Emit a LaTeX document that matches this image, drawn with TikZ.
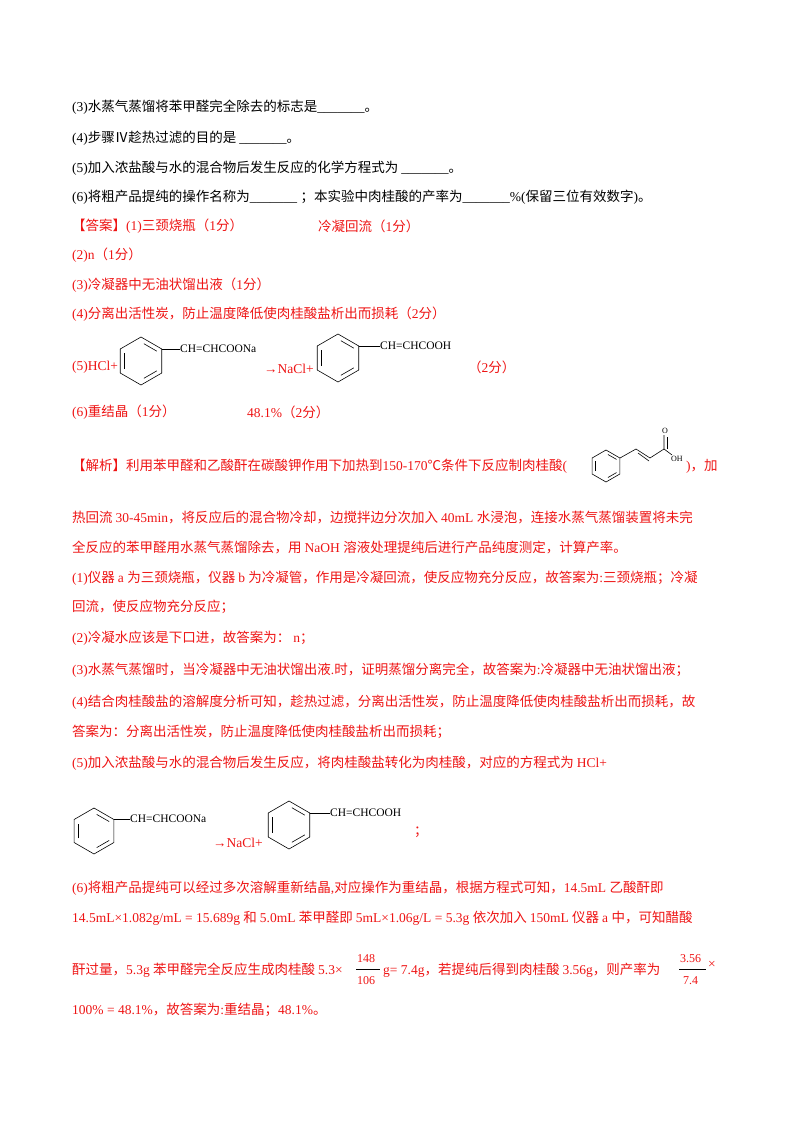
\documentclass[tikz,border=0pt]{standalone}
\usepackage{fontspec}
\setmainfont{Liberation Serif}
\newfontfamily\cjk{Noto Sans CJK SC}
\newfontfamily\latn{Liberation Serif}
\XeTeXinterchartokenstate=1
\newXeTeXintercharclass\cjkclass
\makeatletter
\count@="3000
\loop\ifnum\count@<"A000 \XeTeXcharclass\count@=\cjkclass \advance\count@ 1 \repeat
\count@="FF00
\loop\ifnum\count@<"FFF0 \XeTeXcharclass\count@=\cjkclass \advance\count@ 1 \repeat
\XeTeXcharclass"2103=\cjkclass
\XeTeXcharclass"2163=\cjkclass
\makeatother
\XeTeXinterchartoks 0 \cjkclass = {\cjk}
\XeTeXinterchartoks 4095 \cjkclass = {\cjk}
\XeTeXinterchartoks \cjkclass 0 = {\latn}
\XeTeXinterchartoks 4095 0 = {\latn}
\definecolor{ans}{RGB}{238,20,20}
\tikzset{ln/.style={anchor=west,inner sep=0pt,font=\latn\fontsize{13.5}{16}\selectfont},
 rd/.style={ln,text=ans},
 chem/.style={anchor=west,inner sep=0pt,font=\latn\fontsize{11.5}{13}\selectfont},
 frac/.style={anchor=west,inner sep=0pt,text=ans,font=\latn\fontsize{12}{13}\selectfont},
 bond/.style={line width=0.6pt}}
\newcommand\benz[3]{% cx cy r  (y grows downward)
 \begin{scope}[shift={(#1,#2)}]
 \draw[bond] (0,-#3) -- (0.866*#3,-0.5*#3) -- (0.866*#3,0.5*#3) -- (0,#3) -- (-0.866*#3,0.5*#3) -- (-0.866*#3,-0.5*#3) -- cycle;
 \draw[bond] (0.12*#3,-0.72*#3) -- (0.66*#3,-0.41*#3);
 \draw[bond] (0.66*#3,0.41*#3) -- (0.12*#3,0.72*#3);
 \draw[bond] (-0.70*#3,0.32*#3) -- (-0.70*#3,-0.32*#3);
 \end{scope}
}
\begin{document}
\begin{tikzpicture}[x=1pt,y=-1pt]
\useasboundingbox (0,0) rectangle (800,1132);
\node[ln] (q3) at (72,107) {(3)水蒸气蒸馏将苯甲醛完全除去的标志是\_\_\_\_\_\_\_。};
\node[ln] (q4) at (72,138) {(4)步骤Ⅳ趁热过滤的目的是 \_\_\_\_\_\_\_。};
\node[ln] (q5) at (72,168) {(5)加入浓盐酸与水的混合物后发生反应的化学方程式为 \_\_\_\_\_\_\_。};
\node[ln] (q6) at (72,197) {(6)将粗产品提纯的操作名称为\_\_\_\_\_\_\_ ；本实验中肉桂酸的产率为\_\_\_\_\_\_\_\%(保留三位有效数字)。};
\node[rd] (a1) at (72,226) {【答案】(1)三颈烧瓶（1分）};
\node[rd] (a1b) at (318,226) {冷凝回流（1分）};
\node[rd] (a2) at (72,255) {(2)n（1分）};
\node[rd] (a3) at (72,285) {(3)冷凝器中无油状馏出液（1分）};
\node[rd] (a4) at (72,314) {(4)分离出活性炭，防止温度降低使肉桂酸盐析出而损耗（2分）};
% equation 1
\node[rd] (a5) at (72,367) {(5)HCl+};
\benz{141}{361}{24}
\draw[bond] (162,349) -- (180,349);
\node[chem] (e1) at (180,349) {CH=CHCOONa};
\node[rd] (e1b) at (264,369) {→NaCl+};
\benz{338}{358}{24}
\draw[bond] (359,346) -- (380,346);
\node[chem] (e2) at (380,346) {CH=CHCOOH};
\node[rd] (e2b) at (468,367) {（2分）};
\node[rd] (a6) at (72,412) {(6)重结晶（1分）};
\node[rd] (a6b) at (247,412) {48.1\%（2分）};
% analysis
\node[rd] (j1) at (72,466) {【解析】利用苯甲醛和乙酸酐在碳酸钾作用下加热到150-170℃条件下反应制肉桂酸(};
\benz{606}{466}{16}
\draw[bond] (620,458) -- (636,449) -- (650,458) -- (664,449) -- (664,435);
\draw[bond] (638,453) -- (649,461);
\draw[bond] (667,449) -- (667,437);
\node[chem,font=\latn\fontsize{8}{9}\selectfont] (o1) at (662,431) {O};
\draw[bond] (664,449) -- (672,455);
\node[chem,font=\latn\fontsize{8}{9}\selectfont] (oh) at (671,459) {OH};
\node[rd] (j1b) at (686,466) {)，加};
\node[rd] (j2) at (72,517) {热回流 30-45min，将反应后的混合物冷却，边搅拌边分次加入 40mL 水浸泡，连接水蒸气蒸馏装置将未完};
\node[rd] (j3) at (72,547) {全反应的苯甲醛用水蒸气蒸馏除去，用 NaOH 溶液处理提纯后进行产品纯度测定，计算产率。};
\node[rd] (j4) at (72,578) {(1)仪器 a 为三颈烧瓶，仪器 b 为冷凝管，作用是冷凝回流，使反应物充分反应，故答案为:三颈烧瓶；冷凝};
\node[rd] (j5) at (72,607) {回流，使反应物充分反应；};
\node[rd] (j6) at (72,638) {(2)冷凝水应该是下口进，故答案为： n；};
\node[rd] (j7) at (72,670) {(3)水蒸气蒸馏时，当冷凝器中无油状馏出液.时，证明蒸馏分离完全，故答案为:冷凝器中无油状馏出液；};
\node[rd] (j8) at (72,702) {(4)结合肉桂酸盐的溶解度分析可知，趁热过滤，分离出活性炭，防止温度降低使肉桂酸盐析出而损耗，故};
\node[rd] (j9) at (72,732) {答案为：分离出活性炭，防止温度降低使肉桂酸盐析出而损耗；};
\node[rd] (j10) at (72,763) {(5)加入浓盐酸与水的混合物后发生反应，将肉桂酸盐转化为肉桂酸，对应的方程式为 HCl+};
% equation 2
\benz{94}{831}{23}
\draw[bond] (114,819) -- (130,819);
\node[chem] (f1) at (130,819) {CH=CHCOONa};
\node[rd] (f1b) at (213,843) {→NaCl+};
\benz{289}{825}{24}
\draw[bond] (310,813) -- (330,813);
\node[chem] (f2) at (330,813) {CH=CHCOOH};
\node[rd] (f2b) at (414,832) {；};
\node[rd] (j11) at (72,888) {(6)将粗产品提纯可以经过多次溶解重新结晶,对应操作为重结晶，根据方程式可知，14.5mL 乙酸酐即};
\node[rd] (j12) at (72,918) {14.5mL×1.082g/mL = 15.689g 和 5.0mL 苯甲醛即 5mL×1.06g/L = 5.3g 依次加入 150mL 仪器 a 中，可知醋酸};
\node[rd] (j13) at (72,970) {酐过量，5.3g 苯甲醛完全反应生成肉桂酸 5.3×};
\node[frac] (n1) at (357,959) {148};
\draw[bond] (356,969) -- (380,969);
\node[frac] (d1) at (357,981) {106};
\node[rd] (j13b) at (383,970) {g= 7.4g，若提纯后得到肉桂酸 3.56g，则产率为};
\node[frac] (n2) at (680,959) {3.56};
\draw[bond] (679,969) -- (706,969);
\node[frac] (d2) at (683,981) {7.4};
\node[rd] (j13c) at (708,965) {×};
\node[rd] (j14) at (72,1010) {100\% = 48.1\%，故答案为:重结晶；48.1\%。};
\end{tikzpicture}
\end{document}
